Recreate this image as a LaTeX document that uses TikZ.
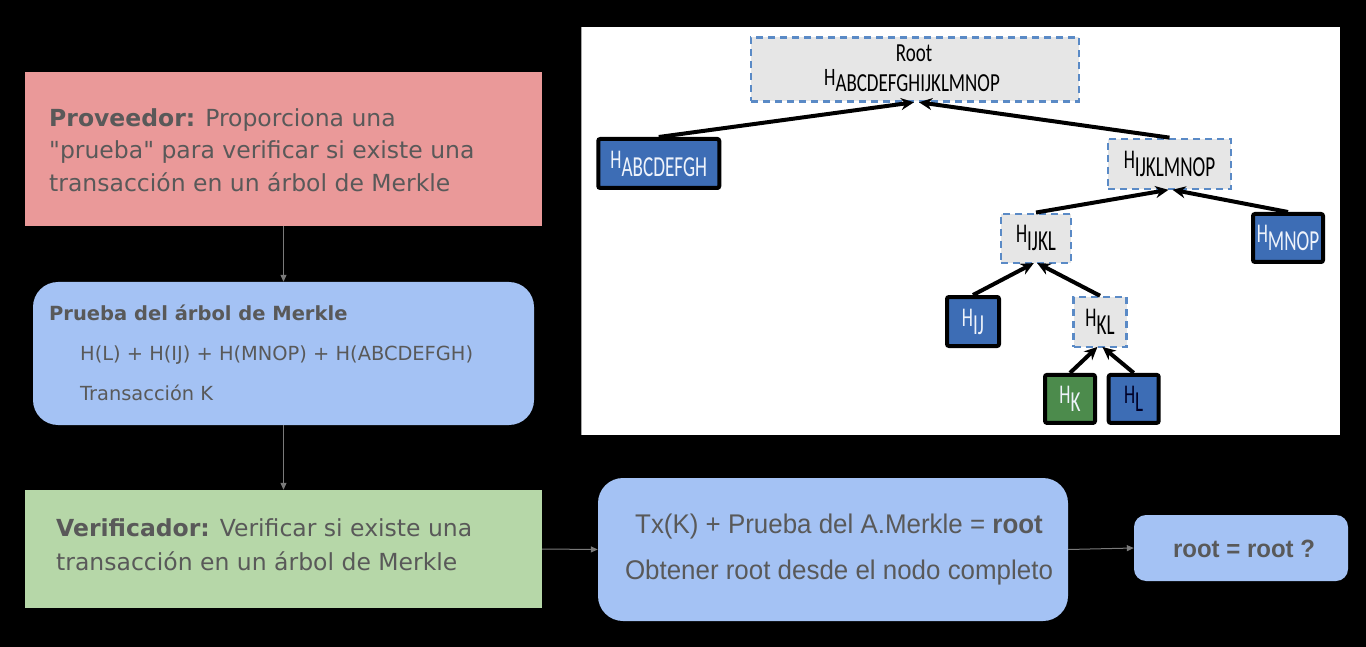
\documentclass[tikz,border=0pt]{standalone}
\usepackage{fontspec}
\setmainfont{DejaVu Sans}[Ligatures=TeXOff]
\newfontfamily\arialc[FakeStretch=0.96]{Liberation Sans}
\newfontfamily\treefont[FakeStretch=0.66]{Carlito}
\newfontfamily\treefontr[FakeStretch=0.73]{Carlito}
\usetikzlibrary{arrows.meta}
\definecolor{txtgray}{HTML}{595959}
\definecolor{boxpink}{HTML}{EA9999}
\definecolor{boxblue}{HTML}{A4C2F4}
\definecolor{boxgreen}{HTML}{B6D7A8}
\definecolor{flowline}{HTML}{7A7A7A}
\definecolor{nodeblue}{HTML}{3D6DB5}
\definecolor{nodegreen}{HTML}{4C8B4C}
\definecolor{dashblue}{HTML}{5A8AC6}
\definecolor{nodegray}{HTML}{E6E6E6}
\definecolor{paletext}{HTML}{EEF3FB}
\newcommand\hsub[1]{{\fontsize{27}{30}\selectfont H}\raisebox{-8pt}{\fontsize{29}{32}\selectfont #1}}
\newcommand\hsubroot[1]{{\fontsize{25}{28}\selectfont H}\raisebox{-6pt}{\fontsize{26}{29}\selectfont #1}}
\tikzset{
  flowbox/.style={rectangle, inner sep=0pt, draw=none},
  lbl/.style={inner sep=0pt, text=txtgray},
  flowarrow/.style={draw=flowline, line width=1pt, -{Triangle[length=7pt,width=6pt]}},
  treebase/.style={rectangle, inner sep=0pt, font=\treefont},
  solidnode/.style={treebase, draw=black, line width=4pt, rounded corners=2pt},
  dashnode/.style={treebase, draw=dashblue, line width=2.5pt, dash pattern=on 7pt off 5pt, fill=nodegray, text=black},
  treearrow/.style={draw=black, line width=4pt, -{Stealth[length=13pt,width=12pt]}, shorten >=-2pt}
}
\begin{document}
\begin{tikzpicture}[x=1pt,y=-1pt]
\fill[black] (0,0) rectangle (1366,647);
\useasboundingbox (0,0) rectangle (1366,647);

% ---------- left flow ----------
\node[flowbox, fill=boxpink, minimum width=517pt, minimum height=154pt] (prov) at (283.5,149) {};
\node[lbl, anchor=base west, font=\fontsize{23.5}{28}\selectfont] (prov1) at (49,126.5) {\textbf{Proveedor:} Proporciona una};
\node[lbl, anchor=base west, font=\fontsize{23.5}{28}\selectfont] (prov2) at (49,159) {"prueba" para verificar si existe una};
\node[lbl, anchor=base west, font=\fontsize{23.5}{28}\selectfont] (prov3) at (49,191.5) {transacción en un árbol de Merkle};

\node[flowbox, fill=boxblue, rounded corners=25pt, minimum width=501pt, minimum height=143pt] (pru) at (283.5,353.5) {};
\node[lbl, anchor=base west, font=\bfseries\fontsize{19.5}{24}\selectfont] (pru1) at (49,320) {Prueba del árbol de Merkle};
\node[lbl, anchor=base west, font=\fontsize{19.4}{24}\selectfont] (pru2) at (80,360) {H(L) + H(IJ) + H(MNOP) + H(ABCDEFGH)};
\node[lbl, anchor=base west, font=\fontsize{19.4}{24}\selectfont] (pru3) at (80,400) {Transacción K};

\node[flowbox, fill=boxgreen, minimum width=517pt, minimum height=118pt] (ver) at (283.5,549) {};
\node[lbl, anchor=base west, font=\fontsize{23.5}{28}\selectfont] (ver1) at (56,536) {\textbf{Verificador:} Verificar si existe una};
\node[lbl, anchor=base west, font=\fontsize{23.5}{28}\selectfont] (ver2) at (56,570) {transacción en un árbol de Merkle};

\node[flowbox, fill=boxblue, rounded corners=25pt, minimum width=470pt, minimum height=143pt] (tx) at (833,549.5) {};
\node[lbl, anchor=base, font=\arialc\fontsize{27}{32}\selectfont] (tx1) at (839,533) {Tx(K) + Prueba del A.Merkle = \textbf{root}};
\node[lbl, anchor=base, font=\arialc\fontsize{27}{32}\selectfont] (tx2) at (839,579) {Obtener root desde el nodo completo};

\node[flowbox, fill=boxblue, rounded corners=12pt, minimum width=214pt, minimum height=66pt] (rq) at (1241,548) {};
\node[lbl, anchor=base, font=\arialc\bfseries\fontsize{25}{30}\selectfont] (rq1) at (1244,557.5) {root = root ?};

\draw[flowarrow] (prov.south) -- (pru.north);
\draw[flowarrow] (pru.south) -- (ver.north);
\draw[flowarrow] (ver.east) -- (tx.west);
\draw[flowarrow] (tx.east) -- (rq.west);

% ---------- Merkle tree panel ----------
\fill[white] (581,27) rectangle (1340,435);
\draw[gray!70, line width=1pt] (581.5,27) -- (581.5,435);

\node[dashnode, minimum width=328pt, minimum height=64pt] (root) at (915,69.3) {};
\node[inner sep=0pt, anchor=base, font=\treefontr\fontsize{26}{29}\selectfont] (rootlbl) at (914,62) {Root};
\node[inner sep=0pt, anchor=base, font=\treefontr] (roothash) at (912,86) {\hsubroot{ABCDEFGHIJKLMNOP}};

\node[solidnode, fill=nodeblue, text=paletext, minimum width=121pt, minimum height=49pt] (habc) at (658.75,163.5) {\hsub{ABCDEFGH}};
\node[dashnode, minimum width=123pt, minimum height=50pt] (hijklmnop) at (1169.5,163.9) {\hsub{IJKLMNOP}};
\node[dashnode, minimum width=70pt, minimum height=49pt] (hijkl) at (1036,238.3) {\hsub{IJKL}};
\node[solidnode, fill=nodeblue, text=paletext, minimum width=70pt, minimum height=48pt] (hmnop) at (1288,238) {\hsub{MNOP}};
\node[solidnode, fill=nodeblue, text=paletext, minimum width=52pt, minimum height=49pt] (hij) at (973,321.5) {\hsub{IJ}};
\node[dashnode, minimum width=53pt, minimum height=50pt] (hkl) at (1100,322) {\hsub{KL}};
\node[solidnode, fill=nodegreen, text=paletext, minimum width=50pt, minimum height=48pt] (hk) at (1070,398.9) {\hsub{K}};
\node[solidnode, fill=nodeblue, text=black!85!blue, minimum width=50pt, minimum height=48pt] (hl) at (1133.7,398.9) {\hsub{L}};

\draw[treearrow] (habc.north) -- ([xshift=-3pt]root.south);
\draw[treearrow] (hijklmnop.north) -- ([xshift=6pt]root.south);
\draw[treearrow] (hijkl.north) -- ([xshift=-3pt]hijklmnop.south);
\draw[treearrow] (hmnop.north) -- ([xshift=5pt]hijklmnop.south);
\draw[treearrow] (hij.north) -- ([xshift=-4pt]hijkl.south);
\draw[treearrow] (hkl.north) -- ([xshift=3pt]hijkl.south);
\draw[treearrow] (hk.north) -- ([xshift=-4pt]hkl.south);
\draw[treearrow] (hl.north) -- ([xshift=4pt]hkl.south);
\end{tikzpicture}
\end{document}
